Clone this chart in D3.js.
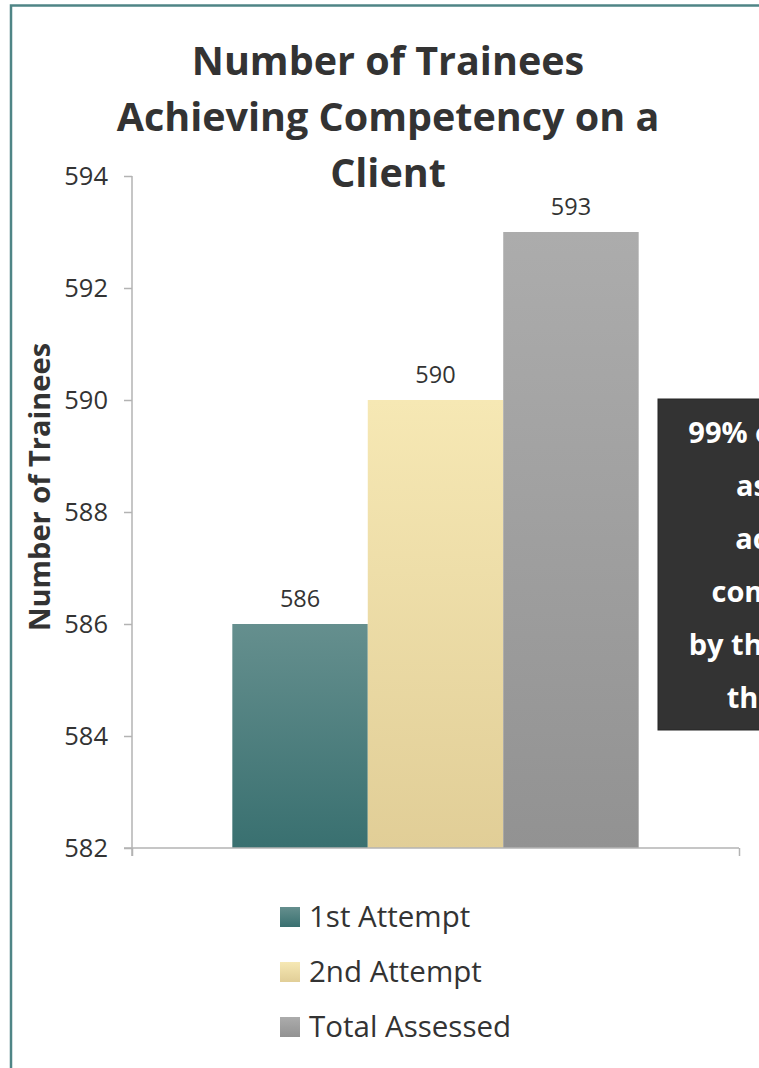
<!DOCTYPE html>
<html>
<head>
<meta charset="utf-8">
<script src="https://cdn.jsdelivr.net/npm/d3@7"></script>
<style>
  body { margin: 0; background: #fff; }
  text { font-family: "Open Sans", sans-serif; }
</style>
</head>
<body>
<div id="chart"></div>
<script>
// Chart data
var categories = [""];
var series = ["1st Attempt", "2nd Attempt", "Total Assessed"];
var values = [586, 590, 593];
var yTicks = [582, 584, 586, 588, 590, 592, 594];
var titleLines = ["Number of Trainees", "Achieving Competency on a", "Client"];
var noteLines = ["99% of trainees", "assessed", "achieved", "competency", "by their second", "third time"];

// Bar colours (top, bottom of gradient)
var colorsTop = ["#658f8e", "#f6e8b4", "#acacac"];
var colorsBottom = ["#397070", "#e1ce97", "#929292"];

var svgWidth = 759;
var svgHeight = 1068;

var margin = { top: 176, right: 20, bottom: 220, left: 132 };
var width = 739 - margin.left;
var height = 848 - margin.top;

var svg = d3.select("#chart")
  .append("svg")
  .attr("width", svgWidth)
  .attr("height", svgHeight);

// gradients for the bars
var defs = svg.append("defs");
series.forEach(function(s, i) {
  var grad = defs.append("linearGradient")
    .attr("id", "grad" + i)
    .attr("x1", 0).attr("y1", 0).attr("x2", 0).attr("y2", 1);
  grad.append("stop").attr("offset", "0%").attr("stop-color", colorsTop[i]);
  grad.append("stop").attr("offset", "100%").attr("stop-color", colorsBottom[i]);
});

// outer frame
svg.append("rect")
  .attr("x", 11)
  .attr("y", 5.5)
  .attr("width", 900)
  .attr("height", 1200)
  .attr("fill", "none")
  .attr("stroke", "#4f8586")
  .attr("stroke-width", 2.5);

var chartGroup = svg.append("g")
  .attr("transform", `translate(${margin.left}, ${margin.top})`);

// scales
var x0 = d3.scaleBand()
  .domain(categories)
  .range([0, width])
  .padding(0.198);

var x1 = d3.scaleBand()
  .domain(series)
  .range([0, x0.bandwidth()]);

var yScale = d3.scaleLinear()
  .domain([582, 594])
  .range([height, 0]);

// y axis
var leftAxis = d3.axisLeft(yScale)
  .tickValues(yTicks)
  .tickSize(8)
  .tickPadding(16)
  .tickFormat(d3.format("d"));

var yAxisG = chartGroup.append("g")
  .call(leftAxis);
yAxisG.select(".domain").attr("d", `M0,0V${height + 8}`);
yAxisG.selectAll("path, line").attr("stroke", "#b3b3b3").attr("stroke-width", 1.5);
yAxisG.selectAll("text")
  .attr("fill", "#333")
  .style("font-size", "25.5px")
  .style("font-family", "'Open Sans', sans-serif");

// bars
chartGroup.selectAll(".bar")
  .data(values)
  .enter()
  .append("rect")
  .attr("class", "bar")
  .attr("x", (d, i) => x0(categories[0]) + x1(series[i]))
  .attr("y", d => yScale(d))
  .attr("width", x1.bandwidth())
  .attr("height", d => height - yScale(d))
  .attr("fill", (d, i) => `url(#grad${i})`);

// x axis
var bottomAxis = d3.axisBottom(d3.scaleLinear().domain([0, 1]).range([0, width]))
  .tickValues([0, 1])
  .tickSize(8)
  .tickFormat("");
var xAxisG = chartGroup.append("g")
  .attr("transform", `translate(0, ${height})`)
  .call(bottomAxis);
xAxisG.select(".domain").attr("d", `M-8,0H${width}`);
xAxisG.selectAll("path, line").attr("stroke", "#b3b3b3").attr("stroke-width", 1.5);

// data labels
chartGroup.selectAll(".label")
  .data(values)
  .enter()
  .append("text")
  .attr("class", "label")
  .attr("x", (d, i) => x0(categories[0]) + x1(series[i]) + x1.bandwidth() / 2)
  .attr("y", d => yScale(d) - 17)
  .attr("text-anchor", "middle")
  .attr("fill", "#333")
  .style("font-size", "23.5px")
  .text(d => d);

// y axis title
svg.append("text")
  .attr("transform", "translate(50, 487) rotate(-90)")
  .attr("text-anchor", "middle")
  .attr("fill", "#333")
  .style("font-size", "29px")
  .style("font-weight", "bold")
  .text("Number of Trainees");

// chart title
svg.append("g").selectAll("text")
  .data(titleLines)
  .enter()
  .append("text")
  .attr("x", 388)
  .attr("y", (d, i) => 75 + i * 56)
  .attr("text-anchor", "middle")
  .attr("fill", "#333")
  .style("font-size", "39.5px")
  .style("font-weight", "bold")
  .text(d => d);

// legend
var legend = svg.append("g")
  .attr("transform", "translate(280, 907)");
var legendItem = legend.selectAll("g")
  .data(series)
  .enter()
  .append("g")
  .attr("transform", (d, i) => `translate(0, ${i * 55})`);
legendItem.append("rect")
  .attr("width", 20)
  .attr("height", 20)
  .attr("fill", (d, i) => `url(#grad${i})`);
legendItem.append("text")
  .attr("x", 29)
  .attr("y", 20)
  .attr("fill", "#333")
  .style("font-size", "29.5px")
  .text(d => d);

// note box on the right
var note = svg.append("g");
note.append("rect")
  .attr("x", 658)
  .attr("y", 399)
  .attr("width", 284)
  .attr("height", 331)
  .attr("fill", "#333333")
  .attr("stroke", "#262626")
  .attr("stroke-width", 1);
note.selectAll("text")
  .data(noteLines)
  .enter()
  .append("text")
  .attr("x", 800)
  .attr("y", (d, i) => 443 + i * 53)
  .attr("text-anchor", "middle")
  .attr("fill", "#fff")
  .style("font-size", "29px")
  .style("font-weight", "bold")
  .text(d => d);
</script>
</body>
</html>
